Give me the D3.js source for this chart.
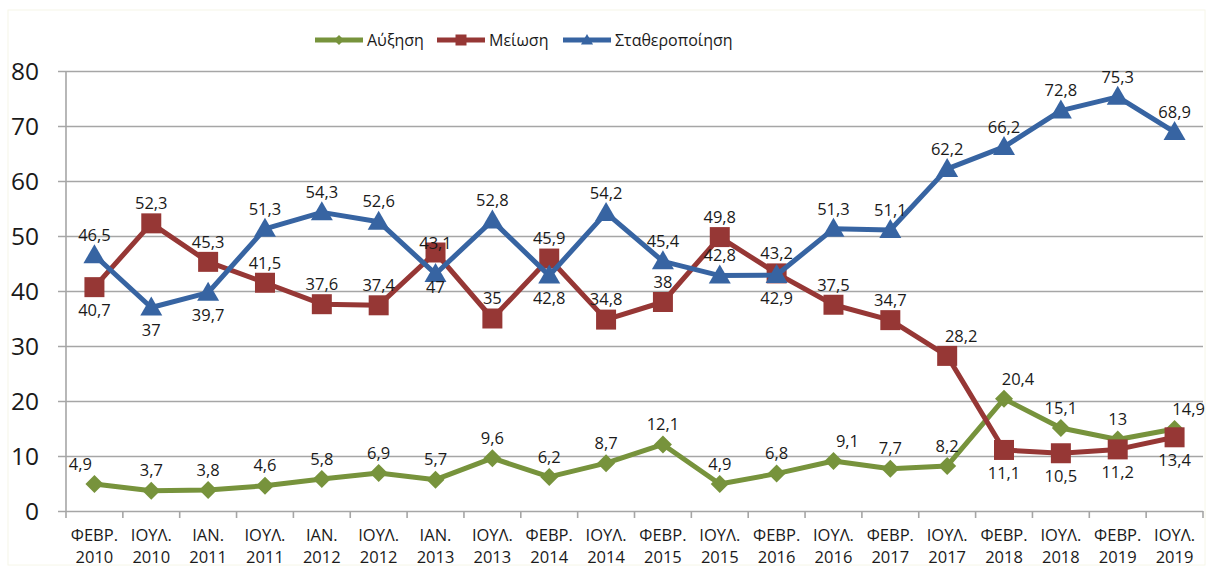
<!DOCTYPE html>
<html>
<head>
<meta charset="utf-8">
<script src="https://cdn.jsdelivr.net/npm/d3@7"></script>
<style>
  body { margin: 0; background: #fff; }
  svg text { font-family: "Open Sans", "DejaVu Sans", sans-serif; fill: #1a1a1a; }
</style>
</head>
<body>
<div id="container"></div>
<script>
/* DATA */
const months = ['ΦΕΒΡ.', 'ΙΟΥΛ.', 'ΙΑΝ.', 'ΙΟΥΛ.', 'ΙΑΝ.', 'ΙΟΥΛ.', 'ΙΑΝ.', 'ΙΟΥΛ.', 'ΦΕΒΡ.', 'ΙΟΥΛ.',
                'ΦΕΒΡ.', 'ΙΟΥΛ.', 'ΦΕΒΡ.', 'ΙΟΥΛ.', 'ΦΕΒΡ.', 'ΙΟΥΛ.', 'ΦΕΒΡ.', 'ΙΟΥΛ.', 'ΦΕΒΡ.', 'ΙΟΥΛ.'];
const years = ['2010', '2010', '2011', '2011', '2012', '2012', '2013', '2013', '2014', '2014',
               '2015', '2015', '2016', '2016', '2017', '2017', '2018', '2018', '2019', '2019'];

const increase = [4.9, 3.7, 3.8, 4.6, 5.8, 6.9, 5.7, 9.6, 6.2, 8.7, 12.1, 4.9, 6.8, 9.1, 7.7, 8.2, 20.4, 15.1, 13, 14.9];
const decrease = [40.7, 52.3, 45.3, 41.5, 37.6, 37.4, 47, 35, 45.9, 34.8, 38, 49.8, 43.2, 37.5, 34.7, 28.2, 11.1, 10.5, 11.2, 13.4];
const stable   = [46.5, 37, 39.7, 51.3, 54.3, 52.6, 43.1, 52.8, 42.8, 54.2, 45.4, 42.8, 42.9, 51.3, 51.1, 62.2, 66.2, 72.8, 75.3, 68.9];

const yTicks = [0, 10, 20, 30, 40, 50, 60, 70, 80];

// where each value label sits: t = above, b = below, r = above-right, l = above-left,
// T / B = further above / below (crowded points)
const incLabelPos = ['l','t','t','t','t','t','t','t','t','t','t','t','t','r','t','t','r','t','t','r'];
const decLabelPos = ['b','t','t','t','t','t','B','t','t','t','t','t','t','t','t','r','b','b','b','b'];
const stbLabelPos = ['t','b','b','t','t','t','T','t','b','t','t','t','b','t','t','t','t','t','t','t'];

const series = [
  { name: 'Αύξηση', values: increase, pos: incLabelPos, color: '#77933C', marker: 'diamond' },
  { name: 'Μείωση', values: decrease, pos: decLabelPos, color: '#963735', marker: 'square' },
  { name: 'Σταθεροποίηση', values: stable, pos: stbLabelPos, color: '#3764A2', marker: 'triangle' }
];

/* LAYOUT */
const width = 1209, height = 567;
const margin = { top: 71, right: 6, bottom: 56, left: 66 };

const svg = d3.select('#container').append('svg')
  .attr('width', width)
  .attr('height', height);

svg.append('rect')
  .attr('x', 8).attr('y', 10)
  .attr('width', width - 12).attr('height', height - 12)
  .attr('fill', '#fff')
  .attr('stroke', '#f6f6e8');

const x = d3.scaleBand()
  .domain(d3.range(months.length))
  .range([margin.left, width - margin.right]);

const y = d3.scaleLinear()
  .domain([0, 80])
  .range([height - margin.bottom, margin.top]);

const cx = i => x(i) + x.bandwidth() / 2;

// gridlines + y labels
const yAxis = svg.append('g')
  .attr('transform', `translate(${margin.left},0)`)
  .call(d3.axisLeft(y).tickValues(yTicks).tickSize(-(width - margin.right - margin.left)).tickPadding(27).tickFormat(d3.format('d')));
yAxis.select('.domain').remove();
yAxis.selectAll('.tick line')
  .attr('x1', -8)
  .attr('stroke', '#a6a6a6')
  .attr('stroke-width', 1.6);
yAxis.selectAll('.tick text')
  .attr('font-size', 24.5)
  .attr('dy', '0.36em');

// vertical axis line
svg.append('line')
  .attr('x1', margin.left).attr('x2', margin.left)
  .attr('y1', y(80)).attr('y2', y(0))
  .attr('stroke', '#a6a6a6').attr('stroke-width', 1.6);

// x axis ticks at band edges
const xb = svg.append('g');
xb.selectAll('line')
  .data(d3.range(months.length + 1))
  .join('line')
  .attr('x1', i => margin.left + i * x.bandwidth())
  .attr('x2', i => margin.left + i * x.bandwidth())
  .attr('y1', y(0)).attr('y2', y(0) + 7)
  .attr('stroke', '#a6a6a6').attr('stroke-width', 1.6);

const xl = svg.append('g').attr('font-size', 16.5).attr('text-anchor', 'middle');
xl.selectAll('text.m')
  .data(months)
  .join('text')
  .attr('class', 'm')
  .attr('x', (d, i) => cx(i))
  .attr('y', y(0) + 24)
  .attr('dy', '0.35em')
  .text(d => d);
xl.selectAll('text.yr')
  .data(years)
  .join('text')
  .attr('class', 'yr')
  .attr('x', (d, i) => cx(i))
  .attr('y', y(0) + 46)
  .attr('dy', '0.35em')
  .text(d => d);

// markers
function markerPath(type) {
  if (type === 'diamond') return 'M0,-9L9,0L0,9L-9,0Z';
  if (type === 'square') return 'M-10,-10H10V10H-10Z';
  return 'M0,-11L11,8H-11Z';
}

const line = d3.line().x((d, i) => cx(i)).y(d => y(d));

series.forEach(s => {
  const g = svg.append('g');
  g.append('path')
    .datum(s.values)
    .attr('d', line)
    .attr('fill', 'none')
    .attr('stroke', s.color)
    .attr('stroke-width', 5)
    .attr('stroke-linejoin', 'round');
  g.selectAll('path.mk')
    .data(s.values)
    .join('path')
    .attr('class', 'mk')
    .attr('transform', (d, i) => `translate(${cx(i)},${y(d)})`)
    .attr('d', markerPath(s.marker))
    .attr('fill', s.color);
});

// value labels
const fmt = v => String(v).replace('.', ',');
const dxFor = p => p === 'r' ? 14 : p === 'l' ? -14 : 0;
const dyFor = p => p === 'b' ? 23 : p === 'B' ? 35 : p === 'T' ? -31 : -20;
const lab = svg.append('g').attr('font-size', 16.5).attr('text-anchor', 'middle');
series.forEach(s => {
  lab.selectAll(null)
    .data(s.values)
    .join('text')
    .attr('x', (d, i) => cx(i) + dxFor(s.pos[i]))
    .attr('y', (d, i) => y(d) + dyFor(s.pos[i]))
    .attr('dy', '0.35em')
    .text(d => fmt(d));
});

// legend
const legendItems = [
  { s: series[0], x: 315 },
  { s: series[1], x: 437 },
  { s: series[2], x: 563 }
];
const lg = svg.append('g').attr('transform', 'translate(0,40)');
legendItems.forEach(it => {
  const g = lg.append('g').attr('transform', `translate(${it.x},0)`);
  g.append('line')
    .attr('x1', 0).attr('x2', 48)
    .attr('stroke', it.s.color).attr('stroke-width', 5);
  g.append('path')
    .attr('transform', `translate(24,0) scale(0.55)`)
    .attr('d', markerPath(it.s.marker))
    .attr('fill', it.s.color);
  g.append('text')
    .attr('x', 52).attr('dy', '0.35em')
    .attr('font-size', 16)
    .text(it.s.name);
});
</script>
</body>
</html>
